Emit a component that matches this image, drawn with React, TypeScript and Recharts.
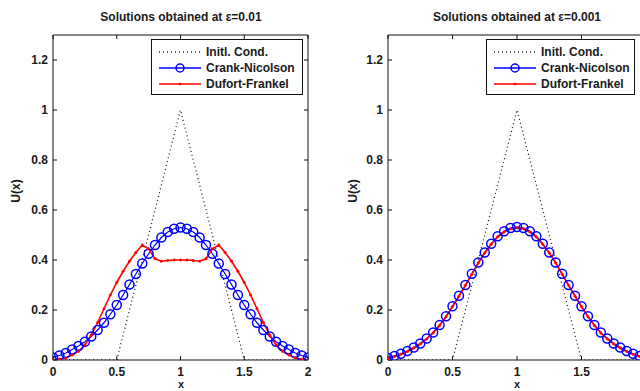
import { LineChart, Line, XAxis, YAxis } from 'recharts';

const X_VALUES = [
  0, 0.05, 0.1, 0.15, 0.2, 0.25, 0.3, 0.35, 0.4, 0.45, 0.5, 0.55, 0.6, 0.65, 0.7, 0.75, 0.8, 0.85, 0.9, 0.95, 1,
  1.05, 1.1, 1.15, 1.2, 1.25, 1.3, 1.35, 1.4, 1.45, 1.5, 1.55, 1.6, 1.65, 1.7, 1.75, 1.8, 1.85, 1.9, 1.95, 2,
];

const INIT_COND = [
  0, 0, 0, 0, 0, 0, 0, 0, 0, 0, 0, 0.1, 0.2, 0.3, 0.4, 0.5, 0.6, 0.7, 0.8, 0.9, 1,
  0.9, 0.8, 0.7, 0.6, 0.5, 0.4, 0.3, 0.2, 0.1, 0, 0, 0, 0, 0, 0, 0, 0, 0, 0, 0,
];

// eps = 0.01
const CN_EPS_01 = [
  0.01, 0.018, 0.028, 0.042, 0.056, 0.073, 0.094, 0.12, 0.149, 0.183, 0.22, 0.26, 0.302, 0.344, 0.386, 0.425, 0.46, 0.49, 0.512, 0.525, 0.53,
  0.525, 0.512, 0.49, 0.46, 0.425, 0.386, 0.344, 0.302, 0.26, 0.22, 0.183, 0.149, 0.12, 0.094, 0.073, 0.056, 0.042, 0.028, 0.018, 0.01,
];
const DF_EPS_01 = [
  0, 0.003, 0.008, 0.02, 0.035, 0.06, 0.1, 0.15, 0.205, 0.26, 0.31, 0.355, 0.395, 0.43, 0.46, 0.445, 0.405, 0.395, 0.398, 0.4, 0.4,
  0.4, 0.398, 0.395, 0.405, 0.445, 0.46, 0.43, 0.395, 0.355, 0.31, 0.26, 0.205, 0.15, 0.1, 0.06, 0.035, 0.02, 0.008, 0.003, 0,
];

// eps = 0.001
const CN_EPS_001 = [
  0.008, 0.016, 0.025, 0.036, 0.05, 0.066, 0.086, 0.11, 0.14, 0.175, 0.215, 0.257, 0.3, 0.345, 0.39, 0.43, 0.465, 0.495, 0.515, 0.528, 0.532,
  0.528, 0.515, 0.495, 0.465, 0.43, 0.39, 0.345, 0.3, 0.257, 0.215, 0.175, 0.14, 0.11, 0.086, 0.066, 0.05, 0.036, 0.025, 0.016, 0.008,
];
const DF_EPS_001 = [
  0.006, 0.014, 0.023, 0.034, 0.048, 0.064, 0.084, 0.108, 0.138, 0.173, 0.213, 0.255, 0.298, 0.343, 0.388, 0.428, 0.463, 0.492, 0.512, 0.525, 0.529,
  0.525, 0.512, 0.492, 0.463, 0.428, 0.388, 0.343, 0.298, 0.255, 0.213, 0.173, 0.138, 0.108, 0.084, 0.064, 0.048, 0.034, 0.023, 0.014, 0.006,
];

const X_TICKS = [0, 0.5, 1, 1.5, 2];
const X_TICKS_CLIPPED = [0, 0.5, 1, 1.5];
const Y_TICKS = [0, 0.2, 0.4, 0.6, 0.8, 1, 1.2];

const FONT = "'Liberation Sans', Arial, sans-serif";
const TEXT_COLOR = '#1a1a1a';
const BLUE = '#0000ff';
const RED = '#ff0000';

function buildRows(cn: number[], df: number[]) {
  return X_VALUES.map((x, i) => ({ x, init: INIT_COND[i], cn: cn[i], df: df[i] }));
}

const tickStyle = { fontSize: 12, fontWeight: 700, fill: TEXT_COLOR, fontFamily: FONT };

function LegendBox({ left, width }: { left: number; width: number }) {
  const rows = [
    { label: 'Initl. Cond.', kind: 'init' },
    { label: 'Crank-Nicolson', kind: 'cn' },
    { label: 'Dufort-Frankel', kind: 'df' },
  ];
  return (
    <div style={{
      position: 'absolute', left, top: 39, width, height: 56, boxSizing: 'border-box',
      border: '1px solid #111', background: '#fff',
    }}>
      {rows.map((r, i) => (
        <div key={r.kind} style={{ position: 'absolute', left: 0, top: 4 + i * 16, height: 16, width: '100%' }}>
          <svg width={50} height={16} style={{ position: 'absolute', left: 4, top: 0 }}>
            {r.kind === 'init' && <line x1={3} x2={45} y1={8} y2={8} stroke="#222" strokeWidth={1.3} strokeDasharray="1 3" />}
            {r.kind === 'cn' && (
              <g>
                <line x1={3} x2={45} y1={8} y2={8} stroke={BLUE} strokeWidth={1.5} />
                <circle cx={24} cy={8} r={4} stroke={BLUE} strokeWidth={1.5} fill="none" />
              </g>
            )}
            {r.kind === 'df' && (
              <g>
                <line x1={3} x2={45} y1={8} y2={8} stroke={RED} strokeWidth={1.5} />
                <circle cx={24} cy={8} r={1.3} fill={RED} />
              </g>
            )}
          </svg>
          <span style={{
            position: 'absolute', left: 54, top: 0, lineHeight: '16px', fontSize: 12, fontWeight: 700,
            fontFamily: FONT, color: TEXT_COLOR, whiteSpace: 'nowrap',
          }}>{r.label}</span>
        </div>
      ))}
    </div>
  );
}

interface PanelProps {
  left: number;
  width: number;
  marginLeft: number;
  marginRight: number;
  xTicks: number[];
  rows: ReturnType<typeof buildRows>;
}

function Panel(p: PanelProps) {
  return (
    <div style={{ position: 'absolute', left: p.left, top: 0, width: p.width, height: 391 }}>
      <LineChart width={p.width} height={391} data={p.rows}
        margin={{ top: 34, right: p.marginRight - 1, bottom: 30, left: p.marginLeft - 1 }}>
        <XAxis dataKey="x" type="number" domain={[0, 2]} ticks={p.xTicks} height={1}
          tickSize={-4} tickMargin={11} tick={tickStyle} stroke="#111" tickLine={{ stroke: '#111' }}
          allowDataOverflow />
        <XAxis xAxisId="top" orientation="top" dataKey="x" type="number" domain={[0, 2]} ticks={p.xTicks}
          height={1} tickSize={-4} tickFormatter={() => ''} stroke="#111" allowDataOverflow />
        <YAxis type="number" domain={[0, 1.3]} ticks={Y_TICKS} width={1} tickSize={-4} tickMargin={9}
          tick={tickStyle} stroke="#111" allowDataOverflow />
        <YAxis yAxisId="right" orientation="right" type="number" domain={[0, 1.3]} ticks={Y_TICKS}
          width={1} tickSize={-4} tickFormatter={() => ''} stroke="#111" allowDataOverflow />
        <Line dataKey="init" type="linear" stroke="#222" strokeWidth={1.3} strokeDasharray="1 3"
          dot={false} isAnimationActive={false} />
        <Line dataKey="cn" type="linear" stroke={BLUE} strokeWidth={1.2}
          dot={{ r: 4.5, stroke: BLUE, strokeWidth: 1.5, fill: 'none' }} isAnimationActive={false} />
        <Line dataKey="df" type="linear" stroke={RED} strokeWidth={1.6}
          dot={{ r: 1.2, stroke: RED, fill: RED, strokeWidth: 0.5 }} isAnimationActive={false} />
      </LineChart>
    </div>
  );
}

export default function App() {
  const left = buildRows(CN_EPS_01, DF_EPS_01);
  const right = buildRows(CN_EPS_001, DF_EPS_001);
  const label = { position: 'absolute' as const, fontFamily: FONT, fontSize: 12, fontWeight: 700, color: TEXT_COLOR, whiteSpace: 'nowrap' as const };
  return (
    <div style={{ position: 'absolute', left: 0, top: 0, width: 640, height: 391, overflow: 'hidden', background: '#fff' }}>
      <Panel left={0} width={320} marginLeft={53} marginRight={12} xTicks={X_TICKS} rows={left} />
      <Panel left={320} width={340} marginLeft={68} marginRight={14} xTicks={X_TICKS_CLIPPED} rows={right} />
      <LegendBox left={151} width={152} />
      <LegendBox left={486} width={149} />
      <div style={{ ...label, left: 61, width: 240, top: 10, textAlign: 'center', lineHeight: '14px' }}>
        Solutions obtained at ε=0.01
      </div>
      <div style={{ ...label, left: 397, width: 240, top: 10, textAlign: 'center', lineHeight: '14px' }}>
        Solutions obtained at ε=0.001
      </div>
      <div style={{ ...label, left: 16 - 20, top: 184, width: 40, textAlign: 'center', lineHeight: '14px', transform: 'rotate(-90deg)' }}>
        U(x)
      </div>
      <div style={{ ...label, left: 353 - 20, top: 184, width: 40, textAlign: 'center', lineHeight: '14px', transform: 'rotate(-90deg)' }}>
        U(x)
      </div>
      <div style={{ ...label, fontSize: 11, left: 171, top: 378, width: 20, textAlign: 'center', lineHeight: '12px' }}>x</div>
      <div style={{ ...label, fontSize: 11, left: 507, top: 378, width: 20, textAlign: 'center', lineHeight: '12px' }}>x</div>
    </div>
  );
}
